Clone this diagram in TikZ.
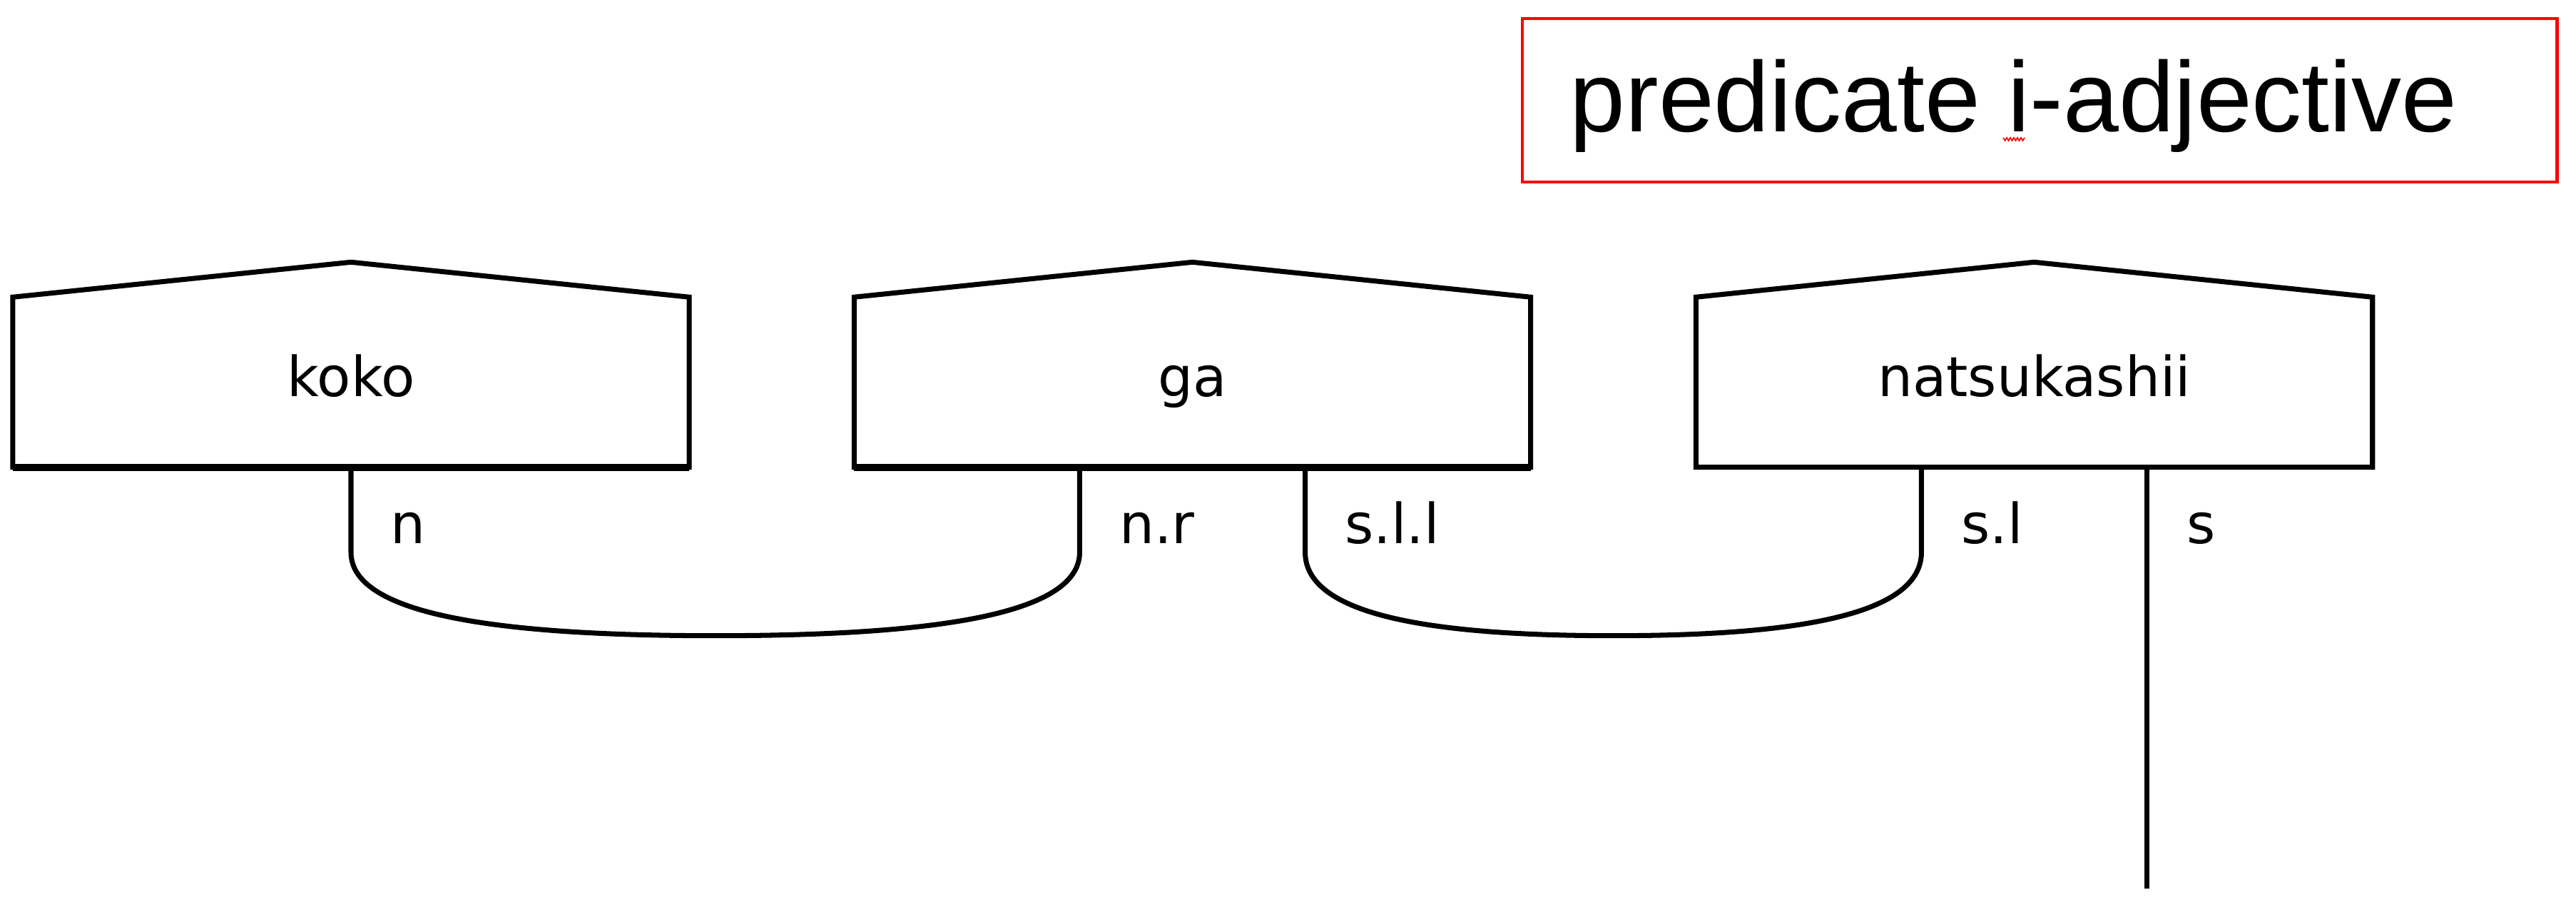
\documentclass[tikz,border=0pt]{standalone}
\usepackage{fontspec}
\setmainfont{DejaVu Sans}
\newfontfamily\titlefont{Liberation Sans}
\usetikzlibrary{calc,fit}
\begin{document}
\begin{tikzpicture}[
  wordbox/.style={minimum width=9.47cm, minimum height=2.37cm, inner sep=0pt, text height=0.55cm, text depth=0.15cm, font=\fontsize{22pt}{26pt}\selectfont},
  wire/.style={line width=2pt},
  lab/.style={anchor=base west, inner sep=0pt, font=\fontsize{22pt}{26pt}\selectfont},
  house/.style={line width=2pt, line join=miter}
]
\useasboundingbox (0,0) rectangle (36.11,-12.82);
% word boxes
\node[wordbox] (k) at (4.92,-5.355) {koko};
\node[wordbox] (g) at (16.715,-5.355) {ga};
\node[wordbox] (t) at (28.515,-5.355) {natsukashii};
\foreach \b in {k,g,t}{
  \draw[house] (\b.south west) -- (\b.north west) -- ($(\b.north)+(0,0.49)$) -- (\b.north east) -- (\b.south east) -- cycle;
}
\draw[line width=2.8pt] (k.south west) -- (k.south east);
\draw[line width=2.8pt] (g.south west) -- (g.south east);
% wire ends on boxes
\coordinate (kw) at (k.south);
\coordinate (gl) at ($(g.south west)!{1/3}!(g.south east)$);
\coordinate (gr) at ($(g.south west)!{2/3}!(g.south east)$);
\coordinate (tl) at ($(t.south west)!{1/3}!(t.south east)$);
\coordinate (tr) at ($(t.south west)!{2/3}!(t.south east)$);
\coordinate (tend) at ($(tr)+(0,-5.90)$);
% cups
\coordinate (m1) at ($($(kw)!0.5!(gl)$)+(0,-2.36)$);
\coordinate (m2) at ($($(gr)!0.5!(tl)$)+(0,-2.36)$);
\draw[wire] (kw) -- ($(kw)+(0,-1.19)$)
  .. controls ($(kw)+(0,-2.01)$) and ($(kw |- m1)!0.35!(m1)$) .. (m1)
  .. controls ($(gl |- m1)!0.35!(m1)$) and ($(gl)+(0,-2.01)$) .. ($(gl)+(0,-1.19)$) -- (gl);
\draw[wire] (gr) -- ($(gr)+(0,-1.19)$)
  .. controls ($(gr)+(0,-2.01)$) and ($(gr |- m2)!0.35!(m2)$) .. (m2)
  .. controls ($(tl |- m2)!0.35!(m2)$) and ($(tl)+(0,-2.01)$) .. ($(tl)+(0,-1.19)$) -- (tl);
\draw[wire] (tr) -- (tend);
% labels
\node[lab] (ln) at ($(kw |- 0,-7.61)+(0.55,0)$) {n};
\node[lab] (lnr) at ($(gl |- 0,-7.61)+(0.55,0)$) {n.r};
\node[lab] (lsll) at ($(gr |- 0,-7.61)+(0.55,0)$) {s.l.l};
\node[lab] (lsl) at ($(tl |- 0,-7.61)+(0.55,0)$) {s.l};
\node[lab] (ls) at ($(tr |- 0,-7.61)+(0.55,0)$) {s};
% title
\node[anchor=base west, inner sep=0pt, font=\titlefont\fontsize{39.8pt}{44pt}\selectfont] (title) at (22.0,-1.85) {predicate i-adjective};
\coordinate (fa) at (21.34,-0.26);
\coordinate (fb) at (35.84,-2.55);
\node[draw=red, line width=1.4pt, inner sep=0pt, fit=(fa)(fb)] (frame) {};
\draw[red, line width=0.5pt] (28.08,-1.93) -- (28.105,-1.97) -- (28.13,-1.93) -- (28.155,-1.97) -- (28.18,-1.93) -- (28.205,-1.97) -- (28.23,-1.93) -- (28.255,-1.97) -- (28.28,-1.93) -- (28.305,-1.97) -- (28.33,-1.93) -- (28.355,-1.97) -- (28.38,-1.93);
\end{tikzpicture}
\end{document}
